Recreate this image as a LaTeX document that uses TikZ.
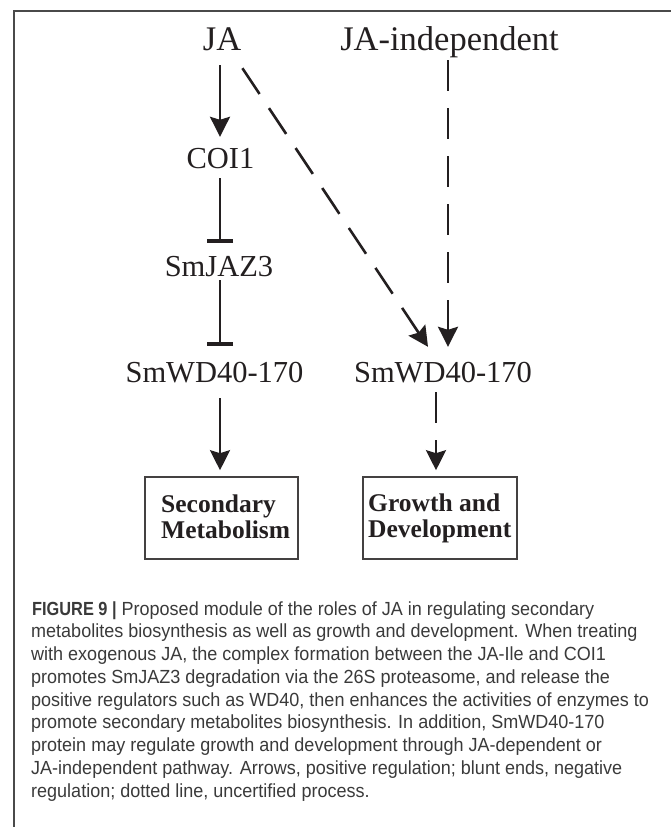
\documentclass[tikz,border=0pt]{standalone}
\usepackage{fontspec}
\setmainfont{Liberation Serif}
\newfontfamily\capfont[FakeStretch=0.948]{Liberation Sans}
\newfontfamily\capboldfont[FakeStretch=0.86]{Liberation Sans}
\usetikzlibrary{arrows.meta,calc}
\definecolor{ink}{HTML}{231F20}
\definecolor{capink}{HTML}{3A3A3A}
\definecolor{framec}{HTML}{4A4A4A}
\tikzset{
  toplbl/.style={inner sep=0pt,text height=23pt,text depth=0pt,font=\fontsize{34.5}{36}\selectfont,text=ink},
  lbl/.style={inner sep=0pt,text height=20pt,text depth=0pt,font=\fontsize{30.5}{32}\selectfont,text=ink},
  boxtxt/.style={inner sep=0pt,font=\bfseries\fontsize{25.5}{27}\selectfont,text=ink},
  box/.style={draw=ink!85,line width=1.6pt,inner sep=0pt},
  act/.style={draw=ink,line width=2.6pt,-{Stealth[length=20pt,width=20pt,inset=3pt]}},
  dashact/.style={act,dash pattern=on 31pt off 17pt},
  inh/.style={draw=ink,line width=2.6pt,-{Bar[width=26pt,line width=3.6pt]}},
  capline/.style={inner sep=0pt,anchor=base west,font=\capfont\fontsize{19}{22}\selectfont,text=capink},
}
\newcommand{\figlabel}[1]{{\capboldfont\bfseries #1}}
\begin{document}
\begin{tikzpicture}[x=1pt,y=-1pt]
\useasboundingbox (0,0) rectangle (671,827);
% frame
\draw[framec,line width=1.6pt] (14,830) -- (14,11) -- (675,11);
% labels
\node[toplbl,anchor=base] (ja) at (222,50) {JA};
\node[toplbl,anchor=base] (jai) at (449.5,50) {JA-independent};
\node[lbl,anchor=base] (coi) at (220.5,168) {COI1};
\node[lbl,anchor=base] (jaz) at (219,276) {SmJAZ3};
\node[lbl,anchor=base] (wdl) at (214.5,382) {SmWD40-170};
\node[lbl,anchor=base] (wdr) at (443,382) {SmWD40-170};
% boxes
\node[box,minimum width=153pt,minimum height=82pt] (sec) at (221.5,518) {};
\node[box,minimum width=154pt,minimum height=82pt] (gro) at (440,518) {};
\node[boxtxt,anchor=base west] (sec1) at (161,512) {Secondary};
\node[boxtxt,anchor=base west] (sec2) at (161,538) {Metabolism};
\node[boxtxt,anchor=base west] (gro1) at (368,511) {Growth and};
\node[boxtxt,anchor=base west] (gro2) at (368,537) {Development};
% connectors
\coordinate (colx) at (220,0);
\draw[act,shorten <=15pt,shorten >=11pt] (ja.south -| colx) -- (coi.north -| colx);
\draw[inh,shorten <=10pt,shorten >=13pt] (coi.south -| colx) -- (jaz.north -| colx);
\draw[inh,shorten <=4pt,shorten >=16pt] (jaz.south -| colx) -- (wdl.north -| colx);
\draw[act,shorten <=16pt,shorten >=6pt] (wdl.south -| colx) -- (sec.north -| colx);
\draw[dashact] ([shift={(1,18)}]ja.south east) -- ([shift={(-15,-15)}]wdr.north);
\draw[dashact] ([shift={(-1.5,10)}]jai.south) -- ([shift={(5,-15)}]wdr.north);
\draw[dashact,shorten <=10pt,shorten >=6pt] ([xshift=-7pt]wdr.south) -- ([xshift=-4pt]gro.north);
% caption
\node[capline] (c1) at (32,615) {\figlabel{FIGURE 9 |} Proposed module of the roles of JA in regulating secondary};
\node[capline] (c2) at (31,637.75) {metabolites biosynthesis as well as growth and development. When treating};
\node[capline] (c3) at (31,660.5) {with exogenous JA, the complex formation between the JA-Ile and COI1};
\node[capline] (c4) at (31,683.25) {promotes SmJAZ3 degradation via the 26S proteasome, and release the};
\node[capline] (c5) at (31,706) {positive regulators such as WD40, then enhances the activities of enzymes to};
\node[capline] (c6) at (31,728.75) {promote secondary metabolites biosynthesis. In addition, SmWD40-170};
\node[capline] (c7) at (31,751.5) {protein may regulate growth and development through JA-dependent or};
\node[capline] (c8) at (31,774.25) {JA-independent pathway. Arrows, positive regulation; blunt ends, negative};
\node[capline] (c9) at (31,797) {regulation; dotted line, uncertified process.};
\end{tikzpicture}
\end{document}
